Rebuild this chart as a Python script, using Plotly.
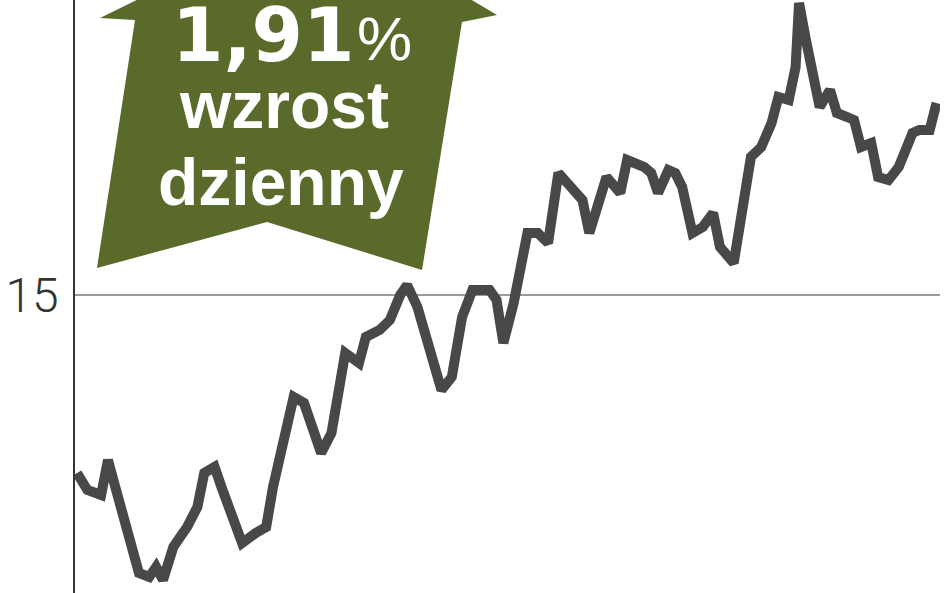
import plotly.graph_objects as go

# trading session number and closing price
days = [0, 3, 7, 9, 10, 13, 16, 18, 21, 23, 25, 28, 32, 35, 37, 40, 42, 45, 48, 52,
        55, 57, 60, 63, 66, 69, 71, 74, 76, 78, 82, 84, 88, 91, 94, 96, 99, 103, 106, 109,
        112, 115, 120, 122, 124, 127, 129, 131, 134, 137, 140, 145, 147, 149, 154, 158, 160, 165, 167, 169,
        172, 174, 176, 179, 182, 185, 187, 191, 194, 196, 199, 202, 204, 207, 209, 210, 212, 214, 216, 219,
        221, 224, 226, 228, 231, 233, 236, 239, 243, 245, 248, 250]
prices = [13.22, 13.05, 13.00, 13.35, 13.22, 12.82, 12.42, 12.22, 12.18, 12.28, 12.15, 12.48, 12.68, 12.88, 13.22, 13.28, 13.08, 12.78, 12.52, 12.62,
          12.68, 13.08, 13.55, 13.98, 13.92, 13.62, 13.42, 13.62, 14.02, 14.42, 14.32, 14.58, 14.65, 14.75, 15.00, 15.10, 14.88, 14.38, 14.05, 14.18,
          14.78, 15.05, 15.05, 14.95, 14.52, 14.92, 15.30, 15.62, 15.62, 15.52, 16.22, 16.02, 15.95, 15.62, 16.18, 16.02, 16.35, 16.28, 16.22, 16.02,
          16.25, 16.22, 16.08, 15.62, 15.68, 15.82, 15.48, 15.32, 15.95, 16.38, 16.48, 16.72, 16.98, 16.95, 17.28, 17.92, 17.55, 17.18, 16.88, 17.05,
          16.82, 16.78, 16.75, 16.48, 16.52, 16.18, 16.15, 16.28, 16.62, 16.65, 16.65, 16.92]

y_ticks = [15]
y_tick_labels = ["15"]

badge_value = "1,91"
badge_unit = "%"
badge_lines = ["wzrost", "dzienny"]

W, H = 948, 593
L_MARGIN, R_MARGIN = 75, 8
OLIVE = "#5a6a2b"
LINE = "#484848"


def to_paper(px, py):
    # page pixels -> paper coords (plot area fills full height)
    return (px - L_MARGIN) / (W - L_MARGIN - R_MARGIN), 1 - py / H


# slanted up-arrow badge outline, page pixels
arrow_px = [(97, 268), (135, 20), (100, 18), (320, -90), (497, 15), (462, 22), (422, 270), (267, 222)]
pts = [to_paper(x, y) for x, y in arrow_px]
arrow_path = "M " + " L ".join(f"{x:.4f},{y:.4f}" for x, y in pts) + " Z"

fig = go.Figure()
fig.add_trace(go.Scatter(
    x=days, y=prices, mode="lines",
    line=dict(color=LINE, width=10),
    hoverinfo="skip",
))

fig.add_shape(type="path", path=arrow_path, xref="paper", yref="paper",
              fillcolor=OLIVE, line=dict(width=0), layer="above")

ax, ay = to_paper(357, 35)
fig.add_annotation(x=ax, y=ay, xref="paper", yref="paper", text=f"<b>{badge_value}</b>",
                   showarrow=False, xanchor="right", yanchor="middle",
                   font=dict(family="DejaVu Sans", size=74, color="white"))
ax, ay = to_paper(355, 39)
fig.add_annotation(x=ax, y=ay, xref="paper", yref="paper", text=badge_unit,
                   showarrow=False, xanchor="left", yanchor="middle",
                   font=dict(family="Liberation Sans", size=62, color="white"))
for (cx, cy), txt in zip([(284, 105), (281, 182)], badge_lines):
    ax, ay = to_paper(cx, cy)
    fig.add_annotation(x=ax, y=ay, xref="paper", yref="paper", text=f"<b>{txt}</b>",
                       showarrow=False, xanchor="center", yanchor="middle",
                       font=dict(family="Liberation Sans", size=66, color="white"))

fig.update_layout(
    width=W, height=H,
    margin=dict(l=L_MARGIN, r=R_MARGIN, t=0, b=0),
    paper_bgcolor="white", plot_bgcolor="white",
    showlegend=False,
)
fig.update_xaxes(visible=False, range=[-0.6, 251])
fig.update_yaxes(
    range=[12.02, 17.95], automargin=False,
    tickvals=y_ticks, ticktext=y_tick_labels,
    showgrid=True, gridcolor="#9a9a9a", gridwidth=1.5,
    showline=True, linecolor="#333333", linewidth=1.5,
    zeroline=False, ticks="", ticklabelstandoff=5,
    tickfont=dict(family="Roboto", size=48, color="#333333", weight=300),
)

fig.write_html("out.html", config={"displayModeBar": False},
               post_script="document.body.style.margin='0';")
